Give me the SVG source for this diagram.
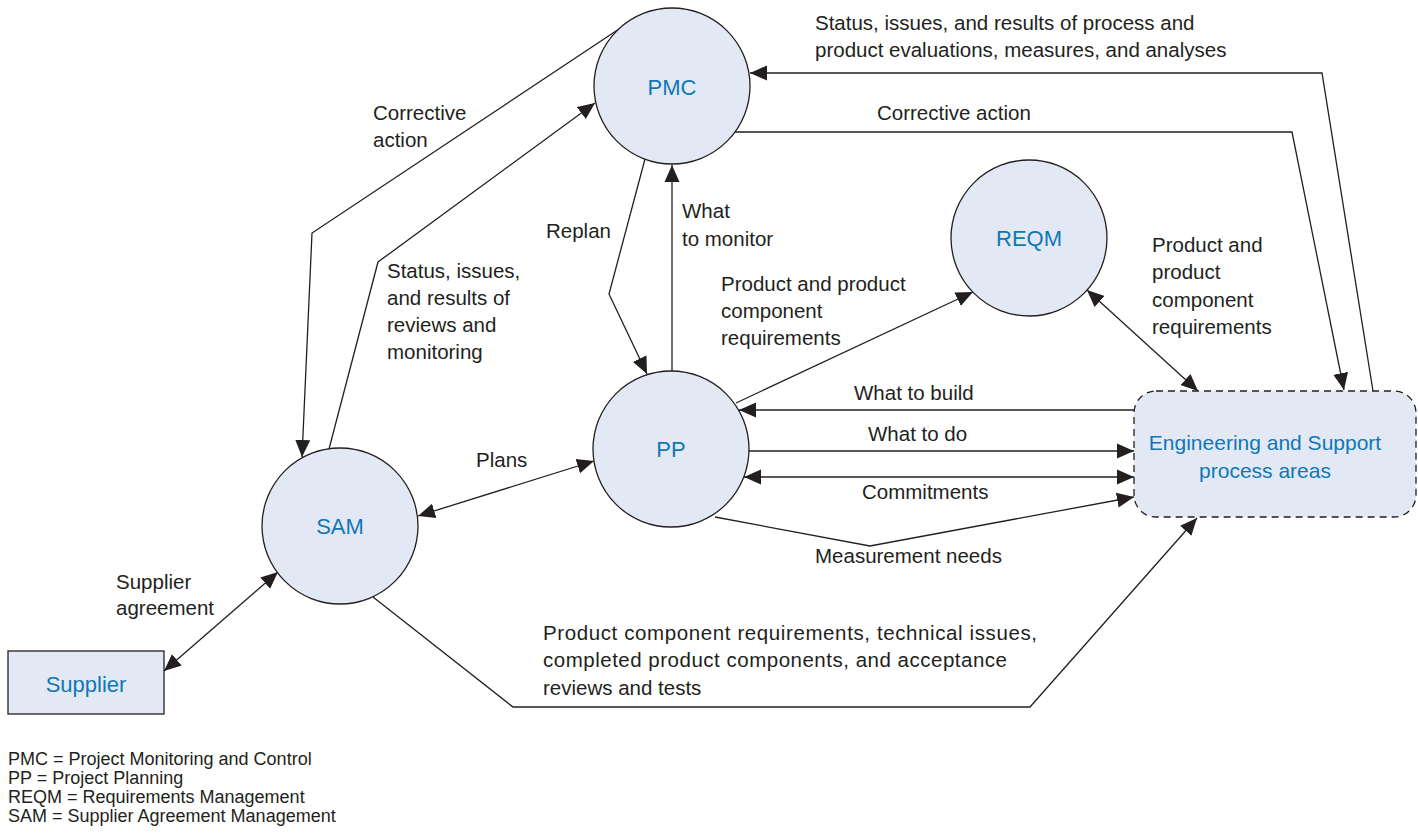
<svg xmlns="http://www.w3.org/2000/svg" width="1418" height="834" viewBox="0 0 1418 834">
  <style>
    .node { fill: #e2e9f4; stroke: #231f20; stroke-width: 1.3; }
    .dash { stroke-dasharray: 7 5; }
    .nlabel { font-family: "Liberation Sans", Arial, Helvetica, sans-serif; font-size: 22px; fill: #1177b6; text-anchor: middle; }
    .elabel { font-family: "Liberation Sans", Arial, Helvetica, sans-serif; font-size: 20.5px; fill: #231f20; }
    .legend { font-family: "Liberation Sans", Arial, Helvetica, sans-serif; font-size: 18px; fill: #231f20; }
    .conn { fill: none; stroke: #231f20; stroke-width: 1.3; }
    .end { marker-end: url(#ah); }
    .both { marker-start: url(#ah); marker-end: url(#ah); }
  </style>
  <defs>
    <marker id="ah" markerUnits="userSpaceOnUse" markerWidth="18" markerHeight="16" refX="17" refY="8" orient="auto-start-reverse">
      <path d="M0,0.5 L17,8 L0,15.5 z" fill="#231f20"/>
    </marker>
  </defs>

  <rect width="1418" height="834" fill="#ffffff"/>

  <!-- connectors -->
  <g id="connectors">
    <!-- PMC -> SAM : corrective action -->
    <polyline class="conn end" points="619,29 312,233 302,457"/>
    <!-- SAM -> PMC : status of reviews and monitoring -->
    <polyline class="conn end" points="329,449 378,262 595,103"/>
    <!-- PMC -> PP : replan -->
    <polyline class="conn end" points="645,159 609,294 647,374"/>
    <!-- PP -> PMC : what to monitor -->
    <line class="conn end" x1="672" y1="371" x2="672" y2="165"/>
    <!-- SAM <-> PP : plans -->
    <line class="conn both" x1="418" y1="516" x2="594" y2="461"/>
    <!-- PP -> REQM -->
    <line class="conn end" x1="736" y1="403" x2="973" y2="292"/>
    <!-- REQM <-> Engineering -->
    <line class="conn both" x1="1087" y1="290" x2="1198" y2="391"/>
    <!-- Engineering -> PP : what to build -->
    <line class="conn end" x1="1134" y1="410" x2="739" y2="410"/>
    <!-- PP -> Engineering : what to do -->
    <line class="conn end" x1="749" y1="451" x2="1134" y2="451"/>
    <!-- PP <-> Engineering : commitments -->
    <line class="conn both" x1="744" y1="477" x2="1134" y2="477"/>
    <!-- PP -> Engineering : measurement needs -->
    <polyline class="conn end" points="715,517 870,546 1134,497"/>
    <!-- SAM -> Engineering : product component requirements -->
    <polyline class="conn end" points="373,597 513,707 1030,707 1197,518"/>
    <!-- Engineering -> PMC : status and evaluations -->
    <polyline class="conn end" points="1373,391 1322,73 750,73"/>
    <!-- PMC -> Engineering : corrective action -->
    <polyline class="conn end" points="735,132 1292,132 1344,390"/>
    <!-- Supplier <-> SAM -->
    <line class="conn both" x1="164" y1="671" x2="278" y2="572"/>
  </g>

  <!-- nodes -->
  <g id="pmc">
    <circle class="node" cx="672" cy="86" r="78"/>
    <text class="nlabel" x="672" y="95">PMC</text>
  </g>
  <g id="pp">
    <circle class="node" cx="671" cy="449" r="78"/>
    <text class="nlabel" x="671" y="457">PP</text>
  </g>
  <g id="sam">
    <circle class="node" cx="340" cy="526" r="78"/>
    <text class="nlabel" x="340" y="534">SAM</text>
  </g>
  <g id="reqm">
    <circle class="node" cx="1029" cy="238" r="78"/>
    <text class="nlabel" x="1029" y="246">REQM</text>
  </g>
  <g id="engineering">
    <rect class="node dash" x="1134" y="391" width="282" height="126" rx="22" ry="22"/>
    <text class="nlabel" x="1265" y="450" style="font-size:21px">Engineering and Support</text>
    <text class="nlabel" x="1265" y="478" style="font-size:21px">process areas</text>
  </g>
  <g id="supplier">
    <rect class="node" x="8" y="651" width="156" height="63"/>
    <text class="nlabel" x="86" y="692">Supplier</text>
  </g>

  <!-- connector labels -->
  <g id="labels">
    <text class="elabel" x="373" y="120">Corrective</text>
    <text class="elabel" x="373" y="147">action</text>
    <text class="elabel" x="387" y="278">Status, issues,</text>
    <text class="elabel" x="387" y="305">and results of</text>
    <text class="elabel" x="387" y="332">reviews and</text>
    <text class="elabel" x="387" y="359">monitoring</text>
    <text class="elabel" x="546" y="238">Replan</text>
    <text class="elabel" x="682" y="218">What</text>
    <text class="elabel" x="682" y="246">to monitor</text>
    <text class="elabel" x="721" y="291">Product and product</text>
    <text class="elabel" x="721" y="318">component</text>
    <text class="elabel" x="721" y="345">requirements</text>
    <text class="elabel" x="1152" y="252">Product and</text>
    <text class="elabel" x="1152" y="279">product</text>
    <text class="elabel" x="1152" y="307">component</text>
    <text class="elabel" x="1152" y="334">requirements</text>
    <text class="elabel" x="815" y="30">Status, issues, and results of process and</text>
    <text class="elabel" x="815" y="57">product evaluations, measures, and analyses</text>
    <text class="elabel" x="877" y="120">Corrective action</text>
    <text class="elabel" x="854" y="400">What to build</text>
    <text class="elabel" x="868" y="441">What to do</text>
    <text class="elabel" x="862" y="499">Commitments</text>
    <text class="elabel" x="815" y="563">Measurement needs</text>
    <text class="elabel" x="476" y="467">Plans</text>
    <text class="elabel" x="116" y="589">Supplier</text>
    <text class="elabel" x="116" y="615">agreement</text>
    <text class="elabel" x="543" y="640" textLength="494" lengthAdjust="spacing">Product component requirements, technical issues,</text>
    <text class="elabel" x="543" y="667" textLength="464" lengthAdjust="spacing">completed product components, and acceptance</text>
    <text class="elabel" x="543" y="695">reviews and tests</text>
  </g>

  <!-- legend -->
  <g id="legend">
    <text class="legend" x="8" y="765">PMC = Project Monitoring and Control</text>
    <text class="legend" x="8" y="784">PP = Project Planning</text>
    <text class="legend" x="8" y="803">REQM = Requirements Management</text>
    <text class="legend" x="8" y="822">SAM = Supplier Agreement Management</text>
  </g>
</svg>
